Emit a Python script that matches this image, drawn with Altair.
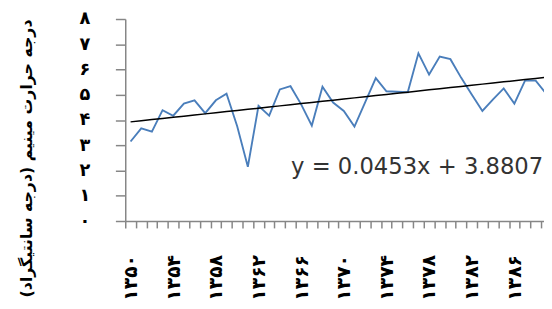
import json
import altair as alt
import pandas as pd

# ---------------- data ----------------
years = list(range(1350, 1390))
tmin = [3.15, 3.67, 3.54, 4.39, 4.17, 4.65, 4.78, 4.27, 4.78, 5.04,
        3.75, 2.15, 4.56, 4.17, 5.21, 5.34, 4.62, 3.78, 5.32, 4.69,
        4.36, 3.74, 4.70, 5.66, 5.14, 5.12, 5.10, 6.64, 5.80, 6.51,
        6.41, 5.68, 5.01, 4.36, 4.82, 5.25, 4.65, 5.56, 5.56, 5.03]

trend_slope = 0.0453
trend_intercept = 3.8807
equation_text = "y = 0.0453x + 3.8807"

x_label_years = [1350, 1354, 1358, 1362, 1366, 1370, 1374, 1378, 1382, 1386]
x_label_text = ["۱۳۵۰", "۱۳۵۴", "۱۳۵۸", "۱۳۶۲", "۱۳۶۶",
                "۱۳۷۰", "۱۳۷۴", "۱۳۷۸", "۱۳۸۲", "۱۳۸۶"]
y_values = [0, 1, 2, 3, 4, 5, 6, 7, 8]
y_label_text = ["۰", "۱", "۲", "۳", "۴", "۵", "۶", "۷", "۸"]
y_title = "درجه حرارت مینیم (درجه سانتیگراد)"

# visible x range (the picture is cropped on the right)
x_min = 1349.5
x_max = 1388.78
# equation label anchor (data units)
eq_x = 1365.05
eq_y = 1.88

# ---------------- styling ----------------
gray = "#868686"
blue = "#4A7EBB"
W, H = 425, 205

df = pd.DataFrame({"year": years, "tmin": tmin,
                   "idx": list(range(1, len(years) + 1))})
boundaries = [y - 0.5 for y in years if y - 0.5 <= x_max]
eq_df = pd.DataFrame({"ex": [eq_x], "ey": [eq_y], "txt": [equation_text]})

x_scale = alt.Scale(domain=[x_min, x_max], nice=False, zero=False)
y_scale = alt.Scale(domain=[0, 8], nice=False, zero=True)

x_label_expr = (f"{json.dumps(x_label_text, ensure_ascii=False)}"
                f"[indexof({json.dumps(x_label_years)}, datum.value)]")
y_label_expr = f"{json.dumps(y_label_text, ensure_ascii=False)}[datum.value]"

y_axis = alt.Axis(values=y_values, labelExpr=y_label_expr, tickSize=10,
                  labelPadding=26, grid=False, domainColor=gray, tickColor=gray,
                  domainWidth=1.5, tickWidth=1.5, labelFont="DejaVu Sans",
                  labelFontSize=18, labelFontWeight="bold", labelColor="black",
                  title=y_title, titleFont="DejaVu Sans", titleFontSize=16,
                  titleFontWeight="bold", titleColor="black", titleX=-100,
                  titleY=141, titleAngle=270, titleAlign="center",
                  titleBaseline="middle")

x_axis_labels = alt.Axis(values=x_label_years, labelExpr=x_label_expr,
                         ticks=False, tickSize=0, labelPadding=34,
                         labelAngle=-90, domainColor=gray, domainWidth=1.5,
                         grid=False, title=None, labelFont="DejaVu Sans",
                         labelFontSize=19, labelFontWeight="bold",
                         labelColor="black", orient="bottom", labelOverlap=False)

x_axis_ticks = alt.Axis(values=boundaries, labels=False, domain=False,
                        tickSize=7, tickColor=gray, tickWidth=1.5, grid=False,
                        title=None, orient="bottom")

base = alt.Chart(df)

line = base.mark_line(color=blue, strokeWidth=1.9, clip=True).encode(
    x=alt.X("year:Q", scale=x_scale, axis=x_axis_labels),
    y=alt.Y("tmin:Q", scale=y_scale, axis=y_axis),
)

trend = base.transform_calculate(
    trend=f"{trend_intercept} + {trend_slope} * datum.idx"
).mark_line(color="black", strokeWidth=1.5, clip=True).encode(
    x=alt.X("year:Q", scale=x_scale, axis=x_axis_ticks),
    y=alt.Y("trend:Q", scale=y_scale, axis=y_axis),
)

eq = alt.Chart(eq_df).mark_text(align="left", baseline="alphabetic",
                                font="DejaVu Sans", fontSize=23,
                                color="#333333").encode(
    x=alt.X("ex:Q", scale=x_scale, axis=None),
    y=alt.Y("ey:Q", scale=y_scale, axis=y_axis),
    text="txt:N",
)

chart = alt.layer(line, trend, eq).resolve_axis(x="independent").properties(
    width=W, height=H,
    autosize=alt.AutoSizeParams(type="none"),
    padding={"left": 119, "top": 9, "right": 0, "bottom": 79},
    background="white",
).configure_view(stroke=None)

chart.save("out.html", embed_options={"renderer": "svg", "actions": False})
